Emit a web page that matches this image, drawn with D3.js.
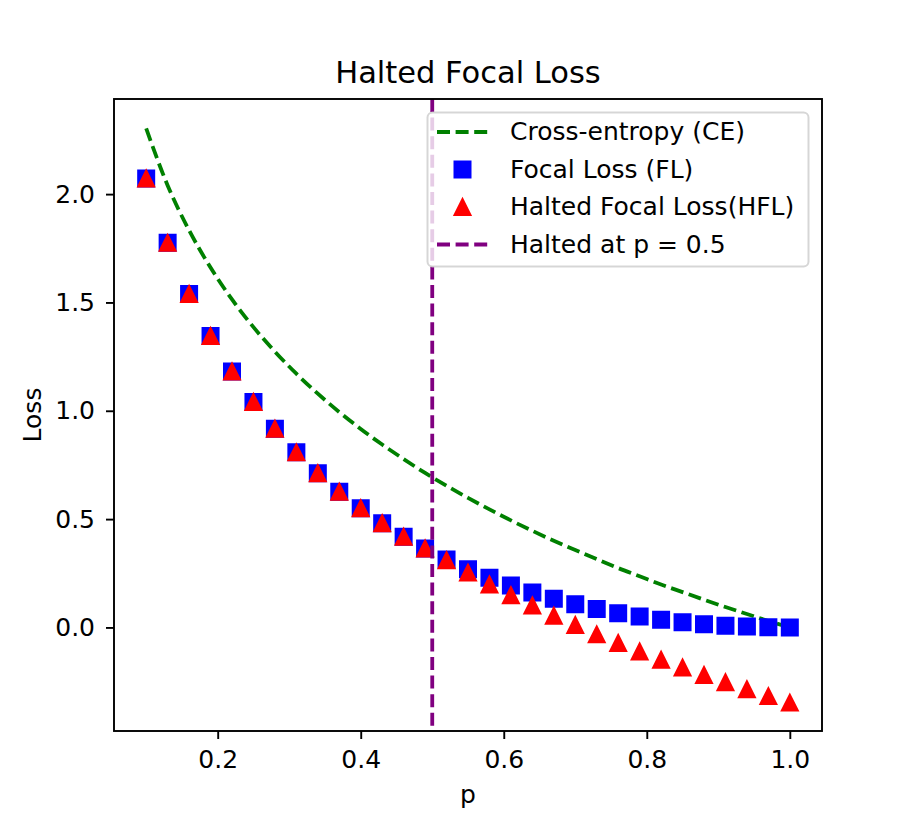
<!DOCTYPE html>
<html>
<head>
<meta charset="utf-8">
<script src="https://cdn.jsdelivr.net/npm/d3@7"></script>
<style>
  body { margin: 0; background: #fff; }
  text { font-family: "DejaVu Sans", sans-serif; fill: #000; }
</style>
</head>
<body>
<svg id="viz"></svg>
<script>
const width = 913, height = 822;

// values
const pVals = [0.10, 0.13, 0.16, 0.19, 0.22, 0.25, 0.28, 0.31, 0.34, 0.37, 0.40,
               0.43, 0.46, 0.49, 0.52, 0.55, 0.58, 0.61, 0.64, 0.67, 0.70, 0.73,
               0.76, 0.79, 0.82, 0.85, 0.88, 0.91, 0.94, 0.97, 1.00];
const ceVals = [2.303, 2.040, 1.833, 1.661, 1.514, 1.386, 1.273, 1.171, 1.079, 0.994, 0.916,
                0.844, 0.777, 0.713, 0.654, 0.598, 0.545, 0.494, 0.446, 0.400, 0.357, 0.315,
                0.274, 0.236, 0.198, 0.163, 0.128, 0.094, 0.062, 0.030, 0.000];
const flVals = [2.072, 1.775, 1.539, 1.345, 1.181, 1.040, 0.917, 0.808, 0.712, 0.626, 0.550,
                0.481, 0.419, 0.364, 0.314, 0.269, 0.229, 0.193, 0.161, 0.132, 0.107, 0.085,
                0.066, 0.050, 0.036, 0.024, 0.015, 0.008, 0.004, 0.001, 0.000];
const hflVals = [2.072, 1.775, 1.539, 1.345, 1.181, 1.040, 0.917, 0.808, 0.712, 0.626, 0.550,
                 0.481, 0.419, 0.364, 0.310, 0.253, 0.198, 0.149, 0.101, 0.054, 0.011, -0.032,
                 -0.072, -0.111, -0.149, -0.185, -0.219, -0.253, -0.285, -0.317, -0.347];
const haltAt = 0.5;
const xTicks = [0.2, 0.4, 0.6, 0.8, 1.0];
const yTicks = [0.0, 0.5, 1.0, 1.5, 2.0];
const legendLabels = ["Cross-entropy (CE)", "Focal Loss (FL)", "Halted Focal Loss(HFL)", "Halted at p = 0.5"];

const svg = d3.select("#viz")
  .attr("width", width)
  .attr("height", height);

const axL = 114, axR = 822, axT = 99, axB = 731;
const fs = 25;

const x = d3.scaleLinear().domain([0.055, 1.045]).range([axL, axR]);
const y = d3.scaleLinear().domain([-0.478, 2.439]).range([axB, axT]);

// matplotlib style triangle: width = height, centred on mid height
const triUp = {
  draw(ctx, size) {
    const h = Math.sqrt(size) / 2;
    ctx.moveTo(0, -h);
    ctx.lineTo(h, h);
    ctx.lineTo(-h, h);
    ctx.closePath();
  }
};
const sq = {
  draw(ctx, size) {
    const h = Math.sqrt(size) / 2;
    ctx.rect(-h, -h, 2 * h, 2 * h);
  }
};
const mSize = 16 * 16;

const plot = svg.append("g");

// cross entropy
const line = d3.line()
  .x((d, i) => x(pVals[i]))
  .y(d => y(d))
  .curve(d3.curveMonotoneX);

plot.append("path")
  .datum(ceVals)
  .attr("d", line)
  .attr("fill", "none")
  .attr("stroke", "#008000")
  .attr("stroke-width", 3.8)
  .attr("stroke-dasharray", "13,5.6");

// focal loss squares
plot.selectAll(".fl")
  .data(flVals)
  .enter().append("path")
  .attr("class", "fl")
  .attr("d", d3.symbol().type(sq).size(mSize))
  .attr("transform", (d, i) => "translate(" + x(pVals[i]) + "," + y(d) + ")")
  .attr("fill", "#0000ff")
  .attr("stroke", "#0000ff")
  .attr("stroke-width", 2);

// halted focal loss triangles
plot.selectAll(".hfl")
  .data(hflVals)
  .enter().append("path")
  .attr("class", "hfl")
  .attr("d", d3.symbol().type(triUp).size(mSize))
  .attr("transform", (d, i) => "translate(" + x(pVals[i]) + "," + y(d) + ")")
  .attr("fill", "#ff0000")
  .attr("stroke", "#ff0000")
  .attr("stroke-width", 2);

// halt line
plot.append("line")
  .attr("x1", x(haltAt)).attr("x2", x(haltAt))
  .attr("y1", axT).attr("y2", axB)
  .attr("stroke", "#800080")
  .attr("stroke-width", 3.8)
  .attr("stroke-dasharray", "13,5.6");

// axes
const xAxis = svg.append("g")
  .attr("transform", "translate(0," + axB + ")")
  .call(d3.axisBottom(x).tickValues(xTicks).tickFormat(d3.format(".1f"))
    .tickSize(8).tickPadding(11).tickSizeOuter(0));

const yAxis = svg.append("g")
  .attr("transform", "translate(" + axL + ",0)")
  .call(d3.axisLeft(y).tickValues(yTicks).tickFormat(d3.format(".1f"))
    .tickSize(8).tickPadding(11).tickSizeOuter(0));

[xAxis, yAxis].forEach(g => {
  g.select(".domain").remove();
  g.selectAll(".tick line").attr("stroke", "#000").attr("stroke-width", 1.9);
  g.selectAll(".tick text").attr("font-size", fs).attr("font-family", "DejaVu Sans");
});

// frame
svg.append("rect")
  .attr("x", axL).attr("y", axT)
  .attr("width", axR - axL).attr("height", axB - axT)
  .attr("fill", "none")
  .attr("stroke", "#000")
  .attr("stroke-width", 1.9);

// legend
const lg = svg.append("g");
lg.append("rect")
  .attr("x", 427.5).attr("y", 112.5)
  .attr("width", 381).attr("height", 154)
  .attr("rx", 5).attr("ry", 5)
  .attr("fill", "#fff").attr("fill-opacity", 0.8)
  .attr("stroke", "#cccccc").attr("stroke-opacity", 0.8)
  .attr("stroke-width", 2);

const rowY = d3.scaleLinear().domain([0, 3]).range([132, 244.5]);
const hx0 = 437, hx1 = 488, hxm = 462.5;

lg.selectAll(".lbl")
  .data(legendLabels)
  .enter().append("text")
  .attr("class", "lbl")
  .attr("x", 510)
  .attr("y", (d, i) => rowY(i) + 8)
  .attr("font-size", fs)
  .text(d => d);

lg.append("line")
  .attr("x1", hx0).attr("x2", hx1)
  .attr("y1", rowY(0)).attr("y2", rowY(0))
  .attr("stroke", "#008000").attr("stroke-width", 3.8)
  .attr("stroke-dasharray", "13,5.6");
lg.append("path")
  .attr("d", d3.symbol().type(sq).size(mSize))
  .attr("transform", "translate(" + hxm + "," + rowY(1) + ")")
  .attr("fill", "#0000ff").attr("stroke", "#0000ff").attr("stroke-width", 2);
lg.append("path")
  .attr("d", d3.symbol().type(triUp).size(mSize))
  .attr("transform", "translate(" + hxm + "," + rowY(2) + ")")
  .attr("fill", "#ff0000").attr("stroke", "#ff0000").attr("stroke-width", 2);
lg.append("line")
  .attr("x1", hx0).attr("x2", hx1)
  .attr("y1", rowY(3)).attr("y2", rowY(3))
  .attr("stroke", "#800080").attr("stroke-width", 3.8)
  .attr("stroke-dasharray", "13,5.6");

// titles
svg.append("text")
  .attr("x", (axL + axR) / 2).attr("y", 83)
  .attr("text-anchor", "middle")
  .attr("font-size", 30.5)
  .text("Halted Focal Loss");

svg.append("text")
  .attr("x", (axL + axR) / 2).attr("y", 803)
  .attr("text-anchor", "middle")
  .attr("font-size", fs)
  .text("p");

svg.append("text")
  .attr("transform", "translate(41," + ((axT + axB) / 2) + ") rotate(-90)")
  .attr("text-anchor", "middle")
  .attr("font-size", fs)
  .text("Loss");
</script>
</body>
</html>
